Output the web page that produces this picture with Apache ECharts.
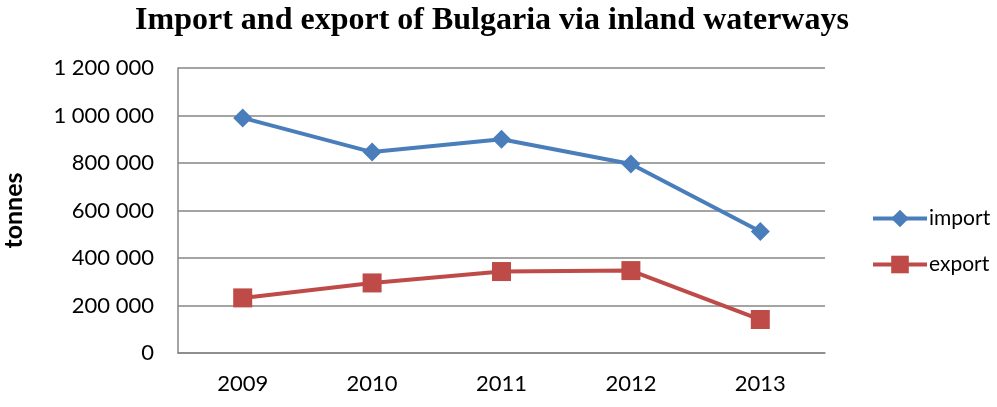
<!DOCTYPE html>
<html>
<head>
<meta charset="utf-8">
<script src="https://cdn.jsdelivr.net/npm/echarts@6/dist/echarts.min.js"></script>
<style>html,body{margin:0;padding:0;background:#fff;}#c{width:997px;height:407px;}</style>
</head>
<body>
<div id="c"></div>
<script>
const years = ['2009', '2010', '2011', '2012', '2013'];
const importValues = [990000, 846000, 900000, 796000, 512000];
const exportValues = [232000, 295000, 343000, 347000, 141000];
const yTicks = [0, 200000, 400000, 600000, 800000, 1000000, 1200000];

const fmt = v => String(v).replace(/\B(?=(\d{3})+(?!\d))/g, ' ');
const chart = echarts.init(document.getElementById('c'));
chart.setOption({
  animation: false,
  backgroundColor: '#fff',
  title: {
    text: 'Import and export of Bulgaria via inland waterways',
    left: 487, top: 0, textAlign: 'center',
    textStyle: {fontFamily: 'Liberation Serif', fontWeight: 'bold', fontSize: 32, color: '#000'}
  },
  legend: {
    orient: 'vertical', left: 866, top: 203, itemGap: 25,
    itemWidth: 54, itemHeight: 22,
    lineStyle: {width: 4},
    textStyle: {fontFamily: 'Lato', fontSize: 21, color: '#000', padding: [0,0,0,-3]},
    data: ['import', 'export']
  },
  grid: {left: 178, right: 172, top: 68, bottom: 54, containLabel: false, outerBoundsMode: 'none'},
  xAxis: {
    type: 'category', data: years, boundaryGap: true,
    axisLine: {show: true, lineStyle: {color: '#868686', width: 1.5}},
    axisTick: {show: false},
    axisLabel: {color: '#000', fontFamily: 'Lato', fontSize: 22, margin: 20}
  },
  yAxis: {
    type: 'value', min: yTicks[0], max: yTicks[yTicks.length-1], interval: 200000,
    name: 'tonnes', nameLocation: 'middle', nameRotate: 90, nameGap: 152,
    nameTextStyle: {fontFamily: 'Lato', fontWeight: 'bold', fontSize: 25, color: '#000'},
    axisLine: {show: true, lineStyle: {color: '#868686', width: 1.5}},
    axisTick: {show: false},
    splitLine: {lineStyle: {color: '#868686', width: 1.5}},
    axisLabel: {color: '#000', fontFamily: 'Lato', fontSize: 22, margin: 24, formatter: fmt}
  },
  series: [
    {name: 'import', type: 'line', data: importValues, symbol: 'diamond', symbolSize: 19,
     lineStyle: {color: '#4a7ebb', width: 4}, itemStyle: {color: '#4a7ebb'}},
    {name: 'export', type: 'line', data: exportValues, symbol: 'rect', symbolSize: 19,
     lineStyle: {color: '#be4b48', width: 4}, itemStyle: {color: '#be4b48'}}
  ]
});
</script>
</body>
</html>
